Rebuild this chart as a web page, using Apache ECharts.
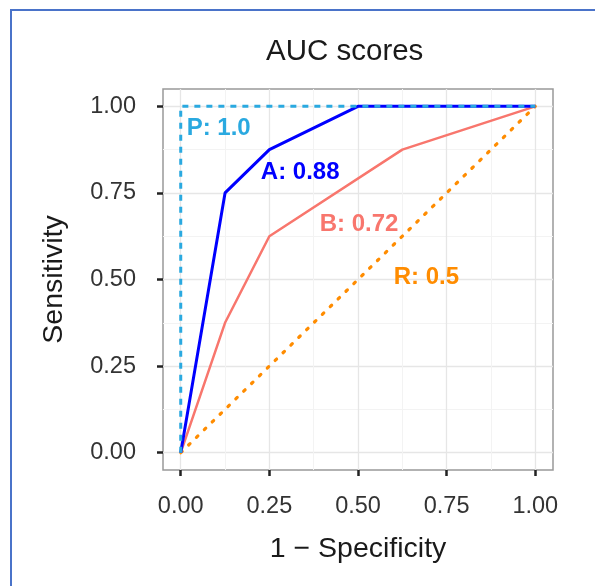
<!DOCTYPE html>
<html>
<head>
<meta charset="utf-8">
<script src="https://cdn.jsdelivr.net/npm/echarts@6/dist/echarts.min.js"></script>
<style>
  html, body { margin: 0; padding: 0; background: #fff; }
  #chart { width: 595px; height: 586px; }
</style>
</head>
<body>
<div id="chart"></div>
<script>
// 数据: 每条 ROC 曲线的 [1 - specificity, sensitivity]
var rocR = [[0, 0], [1, 1]];
var rocB = [[0, 0], [0.125, 0.375], [0.25, 0.625], [0.625, 0.875], [1, 1]];
var rocA = [[0, 0], [0.125, 0.75], [0.25, 0.875], [0.5, 1], [1, 1]];
var rocP = [[0, 0], [0, 1], [1, 1]];

// AUC 标注文字和它在数据坐标中的位置
var aucText = ['P: 1.0', 'A: 0.88', 'B: 0.72', 'R: 0.5'];
var aucAt = [[0.107, 0.937], [0.337, 0.809], [0.503, 0.66], [0.693, 0.507]];

// 刻度
var majorTicks = [0, 0.25, 0.5, 0.75, 1];
var minorTicks = [0, 0.125, 0.25, 0.375, 0.5, 0.625, 0.75, 0.875, 1];

var colP = '#2aa9e0', colA = '#0000ff', colB = '#f8766d', colR = '#ff8c00';
var aucColors = [colP, colA, colB, colR];

var chart = echarts.init(document.getElementById('chart'));

function fmt(v) { return v.toFixed(2); }

// 次网格线 (不显示刻度)
function minorAxis(pos) {
    return {
        type: 'value', min: -0.05, max: 1.05, position: pos,
        axisLine: { show: false, onZero: false },
        axisTick: { show: false, customValues: minorTicks },
        axisLabel: { show: false },
        splitLine: { show: true, lineStyle: { color: '#f3f3f3', width: 1 } }
    };
}

var option = {
    animation: false,
    backgroundColor: '#fff',
    title: {
        text: 'AUC scores',
        left: 261, top: 32,
        textStyle: { fontFamily: 'Liberation Sans', fontSize: 29.5, fontWeight: 'normal', color: '#1a1a1a' }
    },
    graphic: [{
        type: 'rect', silent: true,
        shape: { x: 11, y: 10, width: 700, height: 700 },
        style: { fill: null, stroke: '#4a73c9', lineWidth: 2 }
    }],
    grid: {
        left: 163, right: 42, top: 89, bottom: 116,
        show: true, borderColor: '#999', borderWidth: 1.5, backgroundColor: '#fff'
    },
    xAxis: [
        minorAxis('bottom'),
        {
            type: 'value', min: -0.05, max: 1.05, position: 'bottom',
            name: '1 \u2212 Specificity', nameLocation: 'middle', nameGap: 65,
            nameTextStyle: { fontFamily: 'Liberation Sans', fontSize: 28.5, color: '#1a1a1a' },
            axisLine: { show: false, onZero: false },
            axisTick: { show: true, customValues: majorTicks, length: 6, lineStyle: { color: '#222', width: 2.5 } },
            axisLabel: { customValues: majorTicks, formatter: fmt, margin: 25,
                fontFamily: 'Liberation Sans', fontSize: 23.5, color: '#333' },
            splitLine: { show: true, lineStyle: { color: '#e6e6e6', width: 1.3 } }
        }
    ],
    yAxis: [
        minorAxis('left'),
        {
            type: 'value', min: -0.05, max: 1.05, position: 'left',
            name: 'Sensitivity', nameLocation: 'middle', nameGap: 94,
            nameTextStyle: { fontFamily: 'Liberation Sans', fontSize: 28.5, color: '#1a1a1a' },
            axisLine: { show: false, onZero: false },
            axisTick: { show: true, customValues: majorTicks, length: 6, lineStyle: { color: '#222', width: 2.5 } },
            axisLabel: { customValues: majorTicks, formatter: fmt, margin: 27,
                fontFamily: 'Liberation Sans', fontSize: 23.5, color: '#333' },
            splitLine: { show: true, lineStyle: { color: '#e6e6e6', width: 1.3 } }
        }
    ],
    series: [
        {
            name: 'R', type: 'line', data: rocR, showSymbol: false,
            lineStyle: { color: colR, width: 3.2, type: [2, 9], cap: 'round' }
        },
        {
            name: 'B', type: 'line', data: rocB, showSymbol: false,
            lineStyle: { color: colB, width: 2.5 }
        },
        {
            name: 'A', type: 'line', data: rocA, showSymbol: false,
            lineStyle: { color: colA, width: 3 }
        },
        {
            name: 'P', type: 'line', data: rocP, showSymbol: false,
            lineStyle: { color: colP, width: 3, type: [6, 6] }
        },
        {
            name: 'labels', type: 'scatter', symbolSize: 0,
            itemStyle: { opacity: 1 },
            data: aucAt.map(function (p, i) {
                return {
                    value: p,
                    label: {
                        show: true, position: 'inside', formatter: aucText[i],
                        color: aucColors[i], textBorderWidth: 0, opacity: 1,
                        fontFamily: 'Liberation Sans', fontSize: 24, fontWeight: 'bold'
                    }
                };
            })
        }
    ]
};

chart.setOption(option);
</script>
</body>
</html>
